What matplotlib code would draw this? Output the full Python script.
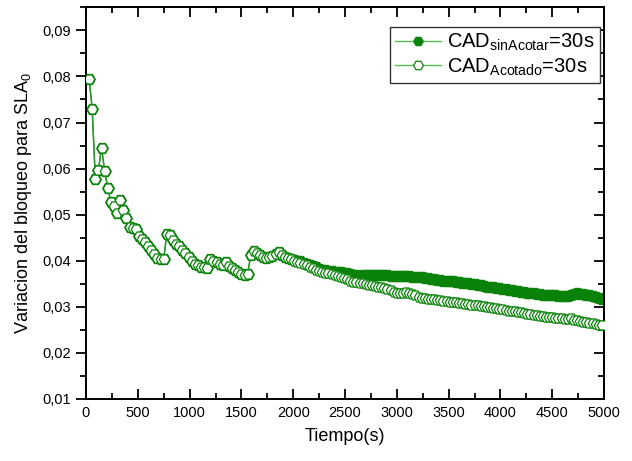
import matplotlib
matplotlib.use("Agg")
import matplotlib.pyplot as plt
from matplotlib.ticker import MultipleLocator, FuncFormatter

plt.rcParams['font.family'] = ['Liberation Sans', 'DejaVu Sans']
plt.rcParams['mathtext.fontset'] = 'custom'
plt.rcParams['mathtext.rm'] = 'Liberation Sans'

# sampling instants (s)
tiempo = list(range(30, 5010, 30))

# blocking variation with bounded CAD
cad_acotado = [
    0.0795, 0.0729, 0.0577, 0.0598, 0.0645, 0.0595, 0.0558, 0.0528, 0.0519, 0.0503,
    0.0532, 0.0511, 0.0492, 0.0474, 0.0471, 0.0469, 0.0454, 0.0447, 0.0440, 0.0433,
    0.0423, 0.0414, 0.0407, 0.0404, 0.0403, 0.0459, 0.0455, 0.0445, 0.0437, 0.0431,
    0.0424, 0.0416, 0.0408, 0.0400, 0.0394, 0.0390, 0.0386, 0.0387, 0.0384, 0.0404,
    0.0400, 0.0397, 0.0393, 0.0391, 0.0398, 0.0389, 0.0384, 0.0379, 0.0375, 0.0372,
    0.0370, 0.0371, 0.0412, 0.0422, 0.0417, 0.0412, 0.0409, 0.0406, 0.0408, 0.0411,
    0.0414, 0.0418, 0.0413, 0.0409, 0.0406, 0.0403, 0.0400, 0.0398, 0.0396, 0.0393,
    0.0390, 0.0387, 0.0384, 0.0381, 0.0378, 0.0376, 0.0374, 0.0373, 0.0371, 0.0369,
    0.0367, 0.0365, 0.0362, 0.0360, 0.0357, 0.0354, 0.0353, 0.0351, 0.0352, 0.0350,
    0.0348, 0.0347, 0.0345, 0.0344, 0.0342, 0.0340, 0.0338, 0.0336, 0.0333, 0.0331,
    0.0329, 0.0331, 0.0333, 0.0330, 0.0327, 0.0325, 0.0322, 0.0320, 0.0319, 0.0318,
    0.0317, 0.0316, 0.0315, 0.0315, 0.0313, 0.0312, 0.0311, 0.0310, 0.0310, 0.0309,
    0.0308, 0.0307, 0.0306, 0.0305, 0.0304, 0.0303, 0.0302, 0.0301, 0.0300, 0.0299,
    0.0298, 0.0297, 0.0296, 0.0295, 0.0294, 0.0292, 0.0291, 0.0290, 0.0289, 0.0288,
    0.0287, 0.0285, 0.0284, 0.0283, 0.0282, 0.0281, 0.0280, 0.0279, 0.0278, 0.0277,
    0.0276, 0.0275, 0.0276, 0.0274, 0.0273, 0.0275, 0.0272, 0.0271, 0.0270, 0.0268,
    0.0267, 0.0265, 0.0264, 0.0263, 0.0261, 0.0260,
]

# unbounded CAD: same trace up to ~2000 s, then it separates
cad_sin_acotar = cad_acotado[:66] + [
    0.0402, 0.0400, 0.0399, 0.0396, 0.0394, 0.0391, 0.0389, 0.0386, 0.0383, 0.0381,
    0.0379, 0.0378, 0.0377, 0.0376, 0.0376, 0.0375, 0.0374, 0.0373, 0.0371, 0.0369,
    0.0368, 0.0367, 0.0369, 0.0370, 0.0369, 0.0369, 0.0370, 0.0369, 0.0368, 0.0368,
    0.0368, 0.0367, 0.0367, 0.0366, 0.0366, 0.0366, 0.0367, 0.0366, 0.0365, 0.0365,
    0.0364, 0.0364, 0.0363, 0.0362, 0.0361, 0.0360, 0.0359, 0.0358, 0.0357, 0.0356,
    0.0356, 0.0355, 0.0354, 0.0353, 0.0352, 0.0352, 0.0351, 0.0350, 0.0349, 0.0348,
    0.0347, 0.0345, 0.0344, 0.0343, 0.0342, 0.0341, 0.0340, 0.0339, 0.0338, 0.0337,
    0.0336, 0.0335, 0.0334, 0.0333, 0.0332, 0.0331, 0.0330, 0.0329, 0.0328, 0.0327,
    0.0326, 0.0326, 0.0325, 0.0325, 0.0325, 0.0324, 0.0324, 0.0324, 0.0324, 0.0326,
    0.0328, 0.0329, 0.0328, 0.0327, 0.0326, 0.0325, 0.0324, 0.0322, 0.0320, 0.0318,
]

etiqueta_sin = r'CAD$_{\mathregular{sinAcotar}}$=30s'
etiqueta_con = r'CAD$_{\mathregular{Acotado}}$=30s'

linea = '#2a9a2a'
verde = '#0a820a'

fig = plt.figure(figsize=(6.32, 4.61), dpi=100)
ax = fig.add_axes([86 / 632, 1 - 399 / 461, 518 / 632, 391.7 / 461])

ax.plot(tiempo, cad_sin_acotar, color=linea, lw=1.0, marker='H', ms=8.5,
        mfc=verde, mec=verde, mew=0.8, label=etiqueta_sin, zorder=2)
ax.plot(tiempo, cad_acotado, color=linea, lw=1.0, marker='H', ms=7.5,
        mfc='white', mec=verde, mew=0.9, label=etiqueta_con, zorder=3)

ax.set_xlim(0, 5000)
ax.set_ylim(0.01, 0.095)
ax.xaxis.set_major_locator(MultipleLocator(500))
ax.xaxis.set_minor_locator(MultipleLocator(250))
ax.yaxis.set_major_locator(MultipleLocator(0.01))
ax.yaxis.set_minor_locator(MultipleLocator(0.005))
ax.yaxis.set_major_formatter(FuncFormatter(lambda v, p: f'{v:.2f}'.replace('.', ',')))

for s in ax.spines.values():
    s.set_linewidth(1.4)

ax.tick_params(axis='x', which='both', direction='in', top=False, width=1.3,
               labelsize=10.5, pad=5)
ax.tick_params(axis='x', which='major', length=7)
ax.tick_params(axis='x', which='minor', length=4)
ax.tick_params(axis='y', which='both', direction='out', right=False, width=1.3,
               labelsize=10.5, pad=4)
ax.tick_params(axis='y', which='major', length=7)
ax.tick_params(axis='y', which='minor', length=4)

# inward ticks on the top and right frames
top = ax.secondary_xaxis('top')
top.xaxis.set_major_locator(MultipleLocator(500))
top.xaxis.set_minor_locator(MultipleLocator(250))
top.tick_params(which='both', direction='in', width=1.3, labeltop=False)
top.tick_params(which='major', length=7)
top.tick_params(which='minor', length=4)
top.spines['top'].set_linewidth(1.4)

right = ax.secondary_yaxis('right')
right.yaxis.set_major_locator(MultipleLocator(0.01))
right.yaxis.set_minor_locator(MultipleLocator(0.005))
right.tick_params(which='both', direction='in', width=1.3, labelright=False)
right.tick_params(which='major', length=7)
right.tick_params(which='minor', length=4)
right.spines['right'].set_linewidth(1.4)

ax.set_xlabel('Tiempo(s)', fontsize=13, labelpad=6)
ax.set_ylabel(r'Variacion del bloqueo para SLA$_{\mathregular{0}}$', fontsize=13, labelpad=6)

leg = ax.legend(loc='upper right', bbox_to_anchor=(0.992, 0.950), borderaxespad=0,
                fontsize=14.5, handlelength=2.3, handletextpad=0.3, labelspacing=0.15,
                borderpad=0.25, fancybox=False, framealpha=1)
leg.get_frame().set_edgecolor('#333333')
leg.get_frame().set_linewidth(1.0)
for h in leg.legend_handles:
    h.set_color('#55bb55')
    h.set_markersize(7)
leg.legend_handles[0].set_markerfacecolor(verde)
leg.legend_handles[0].set_markeredgecolor(verde)
leg.legend_handles[1].set_markerfacecolor('white')
leg.legend_handles[1].set_markeredgecolor(verde)

fig.savefig('out.png', dpi=100)
